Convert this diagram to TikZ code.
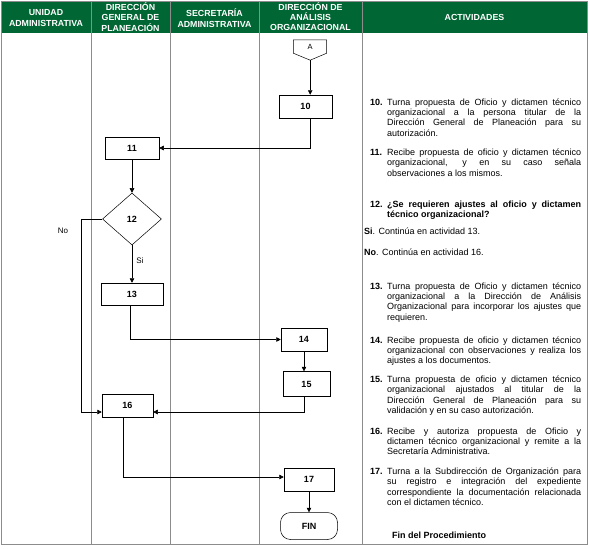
\documentclass[tikz,border=0pt]{standalone}
\usepackage{fontspec}
\setmainfont{Liberation Sans}
\usepackage{xcolor}
\usetikzlibrary{positioning,arrows.meta,shapes.geometric,calc}
\definecolor{verdehead}{RGB}{0,102,51}
\definecolor{gris}{RGB}{140,140,140}

\begin{document}
\begin{tikzpicture}[
    x=1pt,y=-1pt,
    every node/.style={font=\fontsize{9}{10.35}\selectfont},
    head/.style={font=\fontsize{8.8}{10.3}\selectfont\bfseries,text=white,align=center,inner sep=0pt},
    lane/.style={draw=gris,line width=0.5pt},
    caja/.style={draw,line width=0.5pt,minimum height=23pt,inner sep=0pt,font=\fontsize{9}{10}\selectfont\bfseries},
    decis/.style={draw,diamond,aspect=1.13,minimum width=59pt,minimum height=52pt,inner sep=0pt,line width=0.5pt,font=\fontsize{9}{10}\selectfont\bfseries},
    finbox/.style={draw,rounded corners=10pt,minimum width=57pt,minimum height=27pt,inner sep=0pt,line width=0.5pt,font=\fontsize{9}{10}\selectfont\bfseries},
    lbl/.style={font=\fontsize{8}{9}\selectfont,inner sep=0pt},
    num/.style={anchor=base west,inner sep=0pt,font=\fontsize{9}{10.35}\selectfont\bfseries},
    txt/.style={anchor=base west,inner sep=0pt,text width=194pt,align=justify},
    arr/.style={-{Triangle[length=4.5pt,width=4.5pt]},line width=0.5pt},
]
\useasboundingbox (0,0) rectangle (590,549);

% header and lanes
\fill[verdehead] (1,1) rectangle (587,33);
\foreach \x in {91,170,259,362} \draw[lane] (\x,1) -- (\x,544);
\draw[lane] (1,1) rectangle (587,544);

\node[head] (hUA)  at (46,18)     {UNIDAD\\ADMINISTRATIVA};
\node[head] (hDGP) at (130.5,17)  {DIRECCIÓN\\GENERAL DE\\PLANEACIÓN};
\node[head] (hSA)  at (214.5,18)  {SECRETARÍA\\ADMINISTRATIVA};
\node[head] (hDAO) at (310.5,16.5){DIRECCIÓN DE\\ANÁLISIS\\ORGANIZACIONAL};
\node[head] (hAct) at (474.5,17)  {ACTIVIDADES};

% flow
\node[minimum width=33pt,minimum height=13pt,inner sep=0pt,font=\fontsize{7.5}{8}\selectfont] (A) at (310,46.5) {A};
\draw[line width=0.5pt] (A.north west) -- (A.north east) -- (A.south east) -- ++(-16.5,7) coordinate (Atip) -- (A.south west) -- cycle;

\node[caja,minimum width=53pt] (n10) at (305.5,106.5) {10};
\node[caja,minimum width=54pt,minimum height=22pt] (n11) at (132,148) {11};
\node[decis] (n12) at (132,219) {12};
\node[caja,minimum width=62pt,minimum height=22pt] (n13) at (132,294) {13};
\node[caja,minimum width=46pt] (n14) at (304,339.5) {14};
\node[caja,minimum width=47pt,minimum height=25pt,below=20pt of n14,xshift=2.5pt] (n15) {15};
\node[caja,minimum width=51pt] (n16) at (127.5,405.5) {16};
\node[caja,minimum width=50pt] (n17) at (309,479.5) {17};
\node[finbox,below=21pt of n17] (fin) {FIN};
\node[lbl] (no) at (63,231) {No};

\draw[arr] (Atip) -- (Atip |- n10.north);
\draw[arr] (Atip |- n10.south) |- (n11.east);
\draw[arr] (n11) -- (n12);
\draw[arr] (n12) -- node[lbl,right=4pt,pos=0.42] (si) {Si} (n13);
\draw[arr] (n12.west) -- ++(-21,0) |- ([yshift=-6.5pt]n16.west);
\draw[arr] ([xshift=-2pt]n13.south) |- (n14.west);
\draw[arr] (n14.south) -- (n14.south |- n15.north);
\draw[arr] ([xshift=-2.5pt]n15.south) |- ([yshift=-6.5pt]n16.east);
\draw[arr] ([xshift=-4.5pt]n16.south) |- ([yshift=2.5pt]n17.west);
\draw[arr] (n17) -- (fin);

% activities
\node[num] (k10) at (370,105) {10.};
\node[txt] (t10) at ([xshift=17pt]k10.base west) {Turna propuesta de Oficio y dictamen técnico\linebreak organizacional a la persona titular de la\linebreak Dirección General de Planeación para su\linebreak autorización.};
\node[num] (k11) at (370,155.5) {11.};
\node[txt] (t11) at ([xshift=17pt]k11.base west) {Recibe propuesta de oficio y dictamen técnico\linebreak organizacional, y en su caso señala\linebreak observaciones a los mismos.};
\node[num] (k12) at (370,207) {12.};
\node[txt,font=\fontsize{9}{10.35}\selectfont\bfseries] (t12) at ([xshift=17pt]k12.base west) {¿Se requieren ajustes al oficio y dictamen\linebreak técnico organizacional?};
\node[anchor=base west,inner sep=0pt] (tsi) at (364,234) {\textbf{Si}. Continúa en actividad 13.};
\node[anchor=base west,inner sep=0pt] (tno) at (364,255) {\textbf{No}. Continúa en actividad 16.};
\node[num] (k13) at (370,289) {13.};
\node[txt] (t13) at ([xshift=17pt]k13.base west) {Turna propuesta de Oficio y dictamen técnico\linebreak organizacional a la Dirección de Análisis\linebreak Organizacional para incorporar los ajustes que\linebreak requieren.};
\node[num] (k14) at (370,343) {14.};
\node[txt] (t14) at ([xshift=17pt]k14.base west) {Recibe propuesta de oficio y dictamen técnico\linebreak organizacional con observaciones y realiza los\linebreak ajustes a los documentos.};
\node[num] (k15) at (370,382.5) {15.};
\node[txt] (t15) at ([xshift=17pt]k15.base west) {Turna propuesta de oficio y dictamen técnico\linebreak organizacional ajustados al titular de la\linebreak Dirección General de Planeación para su\linebreak validación y en su caso autorización.};
\node[num] (k16) at (370,434) {16.};
\node[txt] (t16) at ([xshift=17pt]k16.base west) {Recibe y autoriza propuesta de Oficio y\linebreak dictamen técnico organizacional y remite a la\linebreak Secretaría Administrativa.};
\node[num] (k17) at (370,474.5) {17.};
\node[txt] (t17) at ([xshift=17pt]k17.base west) {Turna a la Subdirección de Organización para\linebreak su registro e integración del expediente\linebreak correspondiente la documentación relacionada\linebreak con el dictamen técnico.};
\node[num] (kfin) at (392,538.5) {Fin del Procedimiento};
\end{tikzpicture}
\end{document}
